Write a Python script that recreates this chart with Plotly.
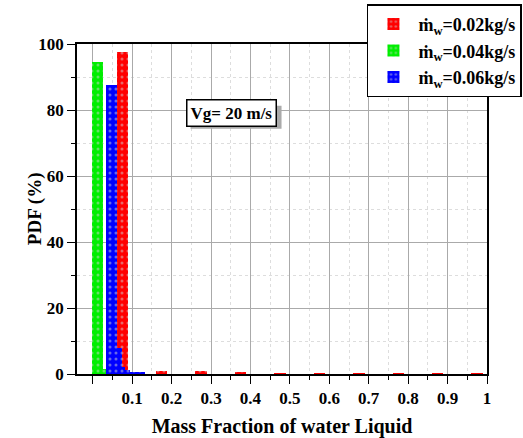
import plotly.graph_objects as go

# ---- data ----
red_x = [0.075, 0.175, 0.275, 0.375, 0.475, 0.575, 0.675, 0.775, 0.875, 0.975]
red_y = [97.7, 1.0, 0.8, 0.4, 0.15, 0.12, 0.15, 0.15, 0.15, 0.15]
red_w = [0.029] * 10

green_x = [0.0115, 0.0295]
green_y = [94.5, 1.5]
green_w = [0.028, 0.008]

blue_x = [0.048, 0.068, 0.0785, 0.089, 0.114]
blue_y = [87.5, 8.0, 2.0, 1.1, 0.6]
blue_w = [0.0285, 0.0115, 0.009, 0.012, 0.038]

names = ["ṁ<sub>w</sub>=0.02kg/s", "ṁ<sub>w</sub>=0.04kg/s", "ṁ<sub>w</sub>=0.06kg/s"]
colors = ["#ff0000", "#00ee00", "#0000ff"]

x_ticks = [0, 0.1, 0.2, 0.3, 0.4, 0.5, 0.6, 0.7, 0.8, 0.9, 1.0]
x_labels = ["", "0.1", "0.2", "0.3", "0.4", "0.5", "0.6", "0.7", "0.8", "0.9", "1"]
y_ticks = [0, 20, 40, 60, 80, 100]

FONT = "Liberation Serif, Times New Roman, serif"

fig = go.Figure()
for xs, ys, ws, nm, c in [(red_x, red_y, red_w, names[0], colors[0]),
                          (green_x, green_y, green_w, names[1], colors[1]),
                          (blue_x, blue_y, blue_w, names[2], colors[2])]:
    fig.add_trace(go.Bar(
        x=xs, y=ys, width=ws, name=nm,
        marker=dict(color=c, line=dict(width=0),
                    pattern=dict(shape=".", fgcolor="#cfcfcf", bgcolor=c,
                                 size=6, solidity=0.2, fillmode="overlay")),
    ))

# annotation box with drop shadow
ann_x, ann_y = 0.352, 79.2
fig.add_shape(type="rect", xref="x", yref="y", xsizemode="pixel", ysizemode="pixel",
              xanchor=ann_x, yanchor=ann_y, x0=-41, x1=50, y0=-16, y1=7,
              fillcolor="#aaaaaa", line=dict(width=0), layer="above")
fig.add_annotation(x=ann_x, y=ann_y, xref="x", yref="y", text="<b>Vg= 20 m/s</b>",
                   showarrow=False,
                   font=dict(family=FONT, size=17, color="black"),
                   bgcolor="white", bordercolor="black", borderwidth=1.5, borderpad=3)

# y-axis title
fig.add_annotation(x=-0.102, y=0.5, xref="paper", yref="paper", text="<b>PDF (%)</b>",
                   showarrow=False, textangle=-90, xanchor="center", yanchor="middle",
                   font=dict(family=FONT, size=19, color="black"))

fig.update_layout(
    width=523, height=438,
    margin=dict(l=77, r=36, t=44, b=64, autoexpand=False),
    paper_bgcolor="white", plot_bgcolor="white",
    barmode="overlay", bargap=0,
    showlegend=True,
    font=dict(family=FONT, color="black"),
    legend=dict(xref="container", yref="container", x=0.998, y=0.99,
                xanchor="right", yanchor="top",
                bgcolor="white", bordercolor="black", borderwidth=1.5,
                font=dict(family=FONT, size=18, color="black", weight="bold"),
                tracegroupgap=0, itemwidth=40),
)

fig.update_xaxes(
    range=[-0.04, 1.0], tickvals=x_ticks, ticktext=x_labels,
    ticks="outside", ticklen=8, tickwidth=1.2, tickcolor="black",
    tickfont=dict(family=FONT, size=17, color="black", weight="bold"),
    showline=True, linecolor="black", linewidth=1.5, mirror=True,
    showgrid=True, gridcolor="#aaaaaa", gridwidth=1,
    minor=dict(dtick=0.05, tick0=0, ticks="outside", ticklen=4, tickcolor="black",
               showgrid=True, gridcolor="#dddddd", griddash="dot"),
    zeroline=False,
    title=dict(text="<b>Mass Fraction of water Liquid</b>",
               font=dict(family=FONT, size=20, color="black"), standoff=12),
)
fig.update_yaxes(
    range=[0, 100], tickvals=y_ticks,
    ticks="outside", ticklen=8, tickwidth=1.2, tickcolor="black",
    tickfont=dict(family=FONT, size=17, color="black", weight="bold"),
    showline=True, linecolor="black", linewidth=1.5, mirror=True,
    showgrid=True, gridcolor="#aaaaaa", gridwidth=1,
    minor=dict(dtick=10, tick0=0, ticks="outside", ticklen=4, tickcolor="black",
               showgrid=True, gridcolor="#dddddd", griddash="dot"),
    zeroline=False,
)

fig.write_html("out.html")
